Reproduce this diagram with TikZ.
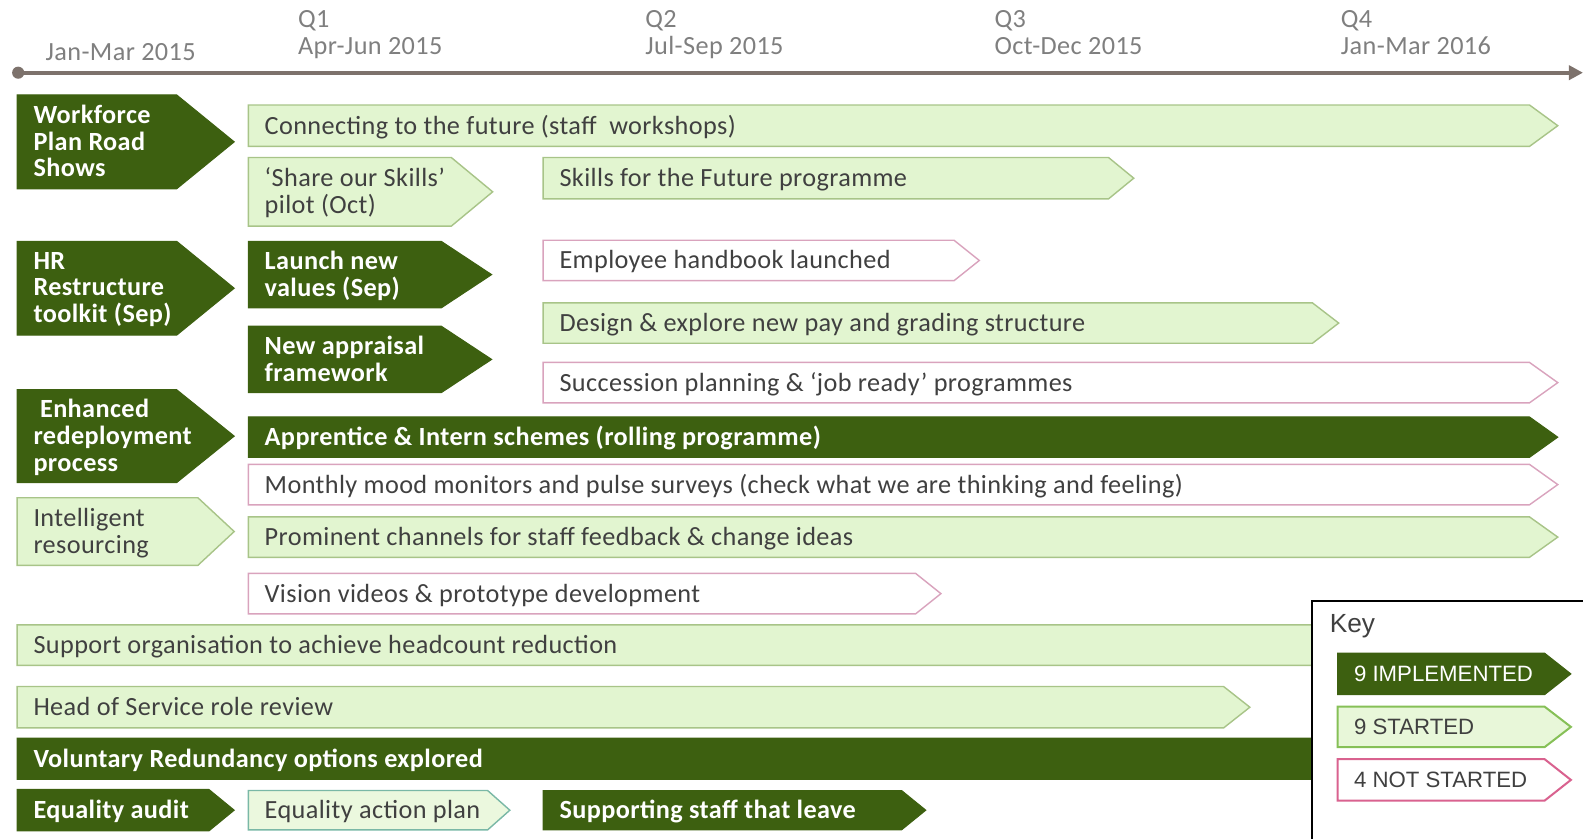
\documentclass[tikz,border=0pt]{standalone}
\usepackage{fontspec}
\setmainfont[LetterSpace=1.5]{Carlito}
\newfontfamily\keyfont{Liberation Sans}
\usetikzlibrary{arrows.meta}

\definecolor{dkgreen}{HTML}{3D6010}
\definecolor{ltfill}{HTML}{E2F5D0}
\definecolor{ltline}{HTML}{A8C488}
\definecolor{pkline}{HTML}{D9A3BD}
\definecolor{txtgray}{HTML}{404040}
\definecolor{labgray}{HTML}{7F7F7F}
\definecolor{axisgray}{HTML}{7D726C}
\definecolor{keypk}{HTML}{D9628F}
\definecolor{keylt}{HTML}{86C057}
\definecolor{tealline}{HTML}{7AB8A6}

\tikzset{
  boxtext/.style={inner sep=0pt, anchor=west, align=left,
    execute at begin node=\strut, execute at end node=\strut},
  % timeline task bars
  dk/.style={fill=dkgreen, draw=dkgreen, line width=1pt},
  lt/.style={fill=ltfill, draw=ltline, line width=1.4pt},
  pk/.style={fill=white, draw=pkline, line width=1.4pt},
  eq/.style={fill=ltfill!70!white, draw=tealline, line width=1.4pt},
  dktxt/.style={boxtext, text=white, font=\fontsize{26}{26.5}\selectfont\bfseries},
  lttxt/.style={boxtext, text=txtgray, font=\fontsize{26}{26.5}\selectfont},
  pktxt/.style={lttxt},
  eqtxt/.style={lttxt},
  % legend bars
  kdk/.style={fill=dkgreen, draw=dkgreen, line width=1pt},
  klt/.style={fill=ltfill!80!white, draw=keylt, line width=2pt},
  kpk/.style={fill=white, draw=keypk, line width=2pt},
  kdktxt/.style={boxtext, text=white, font=\keyfont\fontsize{22}{24}\selectfont},
  klttxt/.style={boxtext, text=txtgray, font=\keyfont\fontsize{22}{24}\selectfont},
  kpktxt/.style={klttxt},
  tlabel/.style={inner sep=0pt, anchor=west, align=left, text=labgray,
    font=\fontsize{26}{27}\selectfont,
    execute at begin node=\strut, execute at end node=\strut},
  axisline/.style={draw=axisgray, line width=4pt,
    -{Triangle[length=14pt,width=14pt]}},
  keyframe/.style={draw=black, line width=2pt, fill=white},
}

% arrow-shaped bar: style, name, left x, top y, body end x, tip x, bottom y, text
\newcommand\tlbox[8]{%
  \draw[#1] (#3,#4) -- (#5,#4) -- (#6,{(#4+#7)/2}) -- (#5,#7) -- (#3,#7) -- cycle;
  \node[#1txt] (#2) at ({#3+16},{(#4+#7)/2+3}) {#8};
}

\begin{document}
\begin{tikzpicture}[x=1pt, y=-1pt]
\useasboundingbox (0,0) rectangle (1568,831);

% time axis
\coordinate (tstart) at (18,72);
\coordinate (tend) at (1568,72);
\draw[axisline] (tstart) -- (tend);
\fill[axisgray] (tstart) circle (6);

\node[tlabel] (q0) at (45,55) {Jan-Mar 2015};
\node[tlabel] (q1) at (295,36) {Q1\\Apr-Jun 2015};
\node[tlabel] (q2) at (639,36) {Q2\\Jul-Sep 2015};
\node[tlabel] (q3) at (985,36) {Q3\\Oct-Dec 2015};
\node[tlabel] (q4) at (1328,36) {Q4\\Jan-Mar 2016};

% workstreams
\tlbox{dk}{wf}{17}{94}{175}{232}{187}{Workforce\\Plan Road\\Shows}
\tlbox{lt}{conn}{246}{104}{1515}{1543}{145}{Connecting to the future (staff\ \ workshops)}
\tlbox{lt}{share}{246}{156}{447}{488}{224}{‘Share our Skills’\\pilot (Oct)}
\tlbox{lt}{skills}{538}{156}{1098}{1123}{197}{Skills for the Future programme}
\tlbox{dk}{hr}{17}{239}{175}{232}{332}{HR\\Restructure\\toolkit (Sep)}
\tlbox{dk}{values}{246}{239}{437}{487}{305}{Launch new\\values (Sep)}
\tlbox{pk}{handbook}{538}{238}{945}{970}{278}{Employee handbook launched}
\tlbox{dk}{appraisal}{246}{323}{437}{487}{389}{New appraisal\\framework}
\tlbox{lt}{pay}{538}{300}{1300}{1326}{340}{Design \& explore new pay and grading structure}
\tlbox{pk}{succession}{538}{359}{1515}{1543}{399}{Succession planning \& ‘job ready’ programmes}
\tlbox{dk}{redeploy}{17}{386}{175}{232}{478}{\hspace*{.25em}Enhanced\\redeployment\\process}
\tlbox{dk}{apprentice}{246}{413}{1515}{1543}{453}{Apprentice \& Intern schemes (rolling programme)}
\tlbox{pk}{mood}{246}{460}{1515}{1543}{500}{Monthly mood monitors and pulse surveys (check what we are thinking and feeling)}
\tlbox{lt}{resourcing}{17}{493}{196}{232}{560}{Intelligent\\resourcing}
\tlbox{lt}{channels}{246}{512}{1515}{1543}{552}{Prominent channels for staff feedback \& change ideas}
\tlbox{pk}{vision}{246}{568}{907}{932}{608}{Vision videos \& prototype development}
\tlbox{lt}{headcount}{17}{619}{1420}{1440}{659}{Support organisation to achieve headcount reduction}
\tlbox{lt}{hos}{17}{680}{1212}{1238}{721}{Head of Service role review}
\tlbox{dk}{vr}{17}{731}{1420}{1440}{772}{Voluntary Redundancy options explored}
\tlbox{dk}{audit}{17}{782}{207}{232}{823}{Equality audit}
\tlbox{eq}{actionplan}{246}{783}{483}{505}{822}{Equality action plan}
\tlbox{dk}{leave}{538}{783}{893}{917}{822}{Supporting staff that leave}

% legend
\draw[keyframe] (1300,595) rectangle (1585,850);
\node[inner sep=0pt, anchor=west, text=txtgray, font=\keyfont\fontsize{26}{28}\selectfont] (key) at (1317,620) {Key};
\tlbox{kdk}{implemented}{1325}{647}{1530}{1556}{688}{9 IMPLEMENTED}
\tlbox{klt}{started}{1325}{700}{1530}{1556}{740}{9 STARTED}
\tlbox{kpk}{notstarted}{1325}{752}{1530}{1556}{793}{4 NOT STARTED}
\end{tikzpicture}
\end{document}
